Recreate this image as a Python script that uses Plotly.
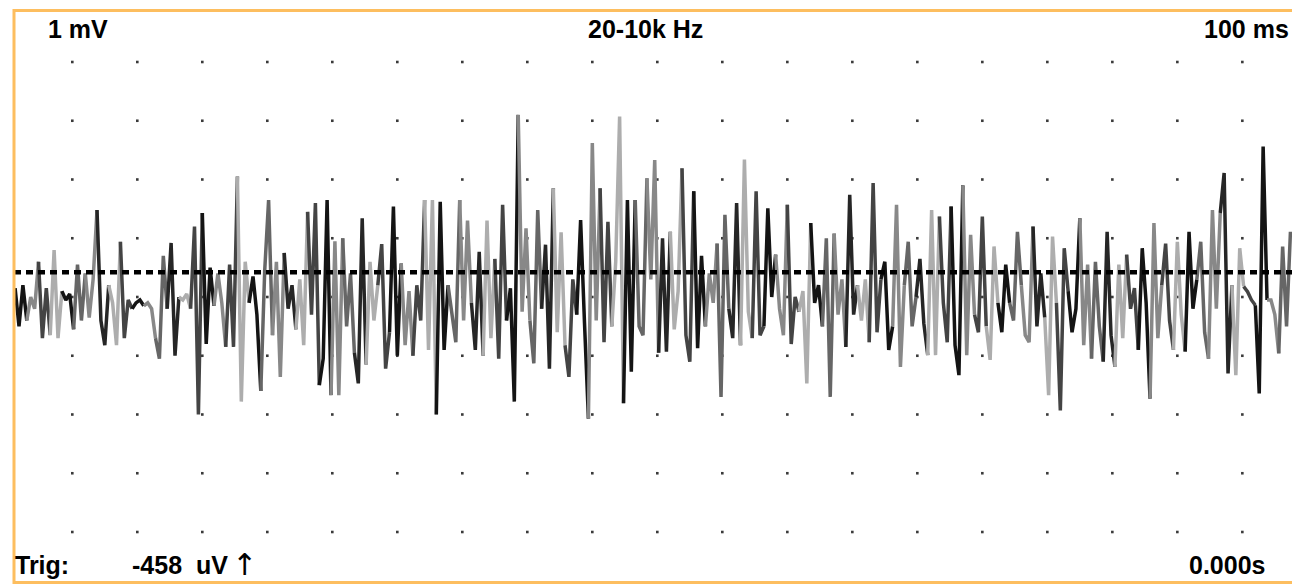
import numpy as np
import plotly.graph_objects as go

sample_start_ms = 0.6          # first sample time
sample_step_ms = 0.3
trace_mv = [
    0.15, -0.5, 0.2, -0.4, 0.0, -0.2, 0.6, -0.7, 0.15, -0.65,
    0.8, -0.7, 0.1, -0.05, 0.05, -0.55, 0.55, -0.4, 0.4, -0.35,
    0.3, 1.48, -0.4, -0.82, 0.2, -0.1, -0.82, 0.94, -0.7, -0.05,
    -0.2, -0.1, -0.05, -0.15, -0.1, -0.2, -0.7, -1.05, 0.7, -0.2,
    0.92, -1.0, 0.0, -0.05, 0.05, -0.2, 1.2, -2.0, 1.43, -0.8,
    0.5, -0.15, 0.4, -0.1, -0.85, 0.55, -0.85, 2.05, -1.78, 0.6,
    -0.1, 0.35, -0.3, -1.6, 0.45, 1.65, -0.65, 0.6, -1.36, 0.75,
    -0.2, 0.2, -0.55, 0.3, -0.82, 1.45, -0.3, 1.6, -1.5, -1.05,
    1.65, -1.67, 0.95, -1.67, 1.0, -0.5, 0.4, -0.95, -1.47, 1.34,
    -1.15, 0.6, -0.4, 0.2, 0.9, -1.22, -0.6, 1.54, -1.0, 0.57,
    -0.82, 0.1, -1.0, 0.2, -0.4, 1.65, -0.9, 1.65, -2.0, 1.62,
    -0.9, 0.2, -0.3, -0.77, 1.65, -0.4, 1.3, -0.1, -0.9, 0.77,
    -1.0, 1.3, -0.7, 0.65, -1.05, 1.57, -0.4, 0.15, -1.78, 3.1,
    -0.25, 1.17, -0.4, -1.13, 1.48, -0.2, 0.89, -1.22, 1.85, -0.6,
    1.1, -0.82, -1.36, 0.3, -0.3, 1.31, -0.45, -2.07, 2.62, -0.4,
    1.85, -0.77, 1.28, -0.5, 0.6, 3.07, -1.81, 1.65, -1.27, 1.65,
    -0.5, -0.65, 2.02, 0.3, 2.33, -0.95, 1.0, -0.93, 1.11, -0.55,
    0.1, 2.19, -0.65, -1.1, 1.8, -0.87, 0.7, -0.5, 0.4, -0.1,
    0.91, -1.7, 1.4, -0.2, -0.7, 1.6, -0.82, 2.34, -0.25, -0.7,
    1.8, -0.65, -0.5, 1.51, 0.0, 0.72, -0.2, -0.65, 1.57, -0.8,
    0.0, -0.25, 0.1, -1.47, 1.26, -0.1, 0.2, -0.5, 1.0, -1.7,
    1.08, -0.3, 0.3, -0.85, 1.74, -0.3, 0.2, -0.4, 0.3, -0.77,
    1.94, -0.6, 0.3, 0.6, -0.9, -0.5, 1.57, -1.19, 0.2, 0.94,
    -0.5, 0.0, 0.65, -0.45, -0.99, 1.48, -0.99, 1.37, -0.1, -0.77,
    1.54, -0.82, -1.33, 1.9, -0.99, 1.06, -0.3, -0.6, 1.37, -0.5,
    -1.07, 0.86, -0.1, -0.6, 0.55, -0.1, -0.4, 1.11, 0.2, -0.65,
    -0.77, 1.2, -0.5, 0.4, -0.35, -1.67, 1.03, -0.1, -1.93, 0.83,
    0.1, -0.6, -0.2, 1.34, -0.82, 0.55, -1.05, 0.6, -0.5, -1.1,
    1.11, -0.65, -1.19, 0.55, -0.7, 0.72, -0.2, 0.15, -0.9, 0.83,
    -0.1, -1.73, 1.26, -0.7, 0.2, 0.91, -0.4, -0.9, 0.94, -0.3,
    -0.93, 1.11, -0.2, 0.3, 0.94, -0.6, -1.05, 1.48, -0.2, 1.43,
    2.11, -1.3, 0.2, -1.33, 0.83, 0.18, 0.09, -0.05, -0.14, -1.64,
    2.56, -0.05, -0.05, -0.3, -0.96, 0.86, -0.5, 1.11,
]
trigger_level_mv = 0.42                     # dashed trigger line
grid_time_ms = list(range(5, 100, 5))       # dot-grid columns (5 ms/div)
grid_volt_mv = list(range(-4, 5))           # dot-grid rows (1 mV/div)

label_sensitivity = "1 mV"
label_filter = "20-10k Hz"
label_sweep = "100 ms"
label_trig = "Trig:"
label_trig_val = "-458  uV"
label_trig_arrow = "\u2191"
label_time = "0.000s"

# ---------------- figure ----------------
W, H = 1292, 584
ML, MR, MT, MB = 14, 0, 11, 2
x_range = [0.515, 98.82]
y_range = [-4.851, 4.868]

t_ms = sample_start_ms + sample_step_ms * np.arange(len(trace_mv))
v = np.array(trace_mv)

fig = go.Figure()

# dot grid
gx, gy = np.meshgrid(grid_time_ms, grid_volt_mv)
fig.add_trace(go.Scatter(
    x=gx.ravel(), y=gy.ravel(), mode="markers",
    marker=dict(symbol="square", size=2.6, color="#3a3a3a", line=dict(width=0)),
    hoverinfo="skip", showlegend=False))

# signal, drawn in short segments with mixed scan tones
palette = ["#141414", "#444444", "#888888", "#adadad", "#262626", "#666666"]
tone_pattern = [0, 2, 1, 3, 0, 5, 2, 4, 3, 1, 0, 2, 5, 4, 3, 1]
seg = 3
for j, k in enumerate(range(0, len(v) - 1, seg)):
    fig.add_trace(go.Scatter(
        x=t_ms[k:k + seg + 1], y=v[k:k + seg + 1], mode="lines",
        line=dict(color=palette[tone_pattern[j % len(tone_pattern)]], width=3.5),
        hoverinfo="skip", showlegend=False))

# trigger dashed line
fig.add_trace(go.Scatter(
    x=x_range, y=[trigger_level_mv, trigger_level_mv], mode="lines",
    line=dict(color="#000000", width=4.5, dash="7px,5px"),
    hoverinfo="skip", showlegend=False))

pw, ph = W - ML - MR, H - MT - MB
def px_x(p):
    return (p - ML) / pw
def px_y(p):
    return (H - MB - p) / ph

orange = "#FDBE5F"
shapes = [
    dict(type="line", xref="paper", yref="paper", x0=px_x(14), x1=px_x(1300),
         y0=px_y(10.5), y1=px_y(10.5), line=dict(color=orange, width=3)),
    dict(type="line", xref="paper", yref="paper", x0=px_x(14), x1=px_x(1300),
         y0=px_y(582.5), y1=px_y(582.5), line=dict(color=orange, width=3)),
    dict(type="line", xref="paper", yref="paper", x0=px_x(14), x1=px_x(14),
         y0=px_y(9), y1=px_y(584), line=dict(color=orange, width=3)),
]

font_family = "Liberation Sans, Arial, sans-serif"
def ann(text, x, y, xanchor, size=25, bold=True, family=font_family):
    return dict(text=("<b>" + text + "</b>") if bold else text,
                xref="paper", yref="paper", x=px_x(x), y=px_y(y),
                xanchor=xanchor, yanchor="middle", showarrow=False,
                font=dict(family=family, size=size, color="#000000"))

annotations = [
    ann(label_sensitivity, 46, 29, "left"),
    ann(label_filter, 645, 29, "center"),
    ann(label_sweep, 1291, 29, "right"),
    ann(label_trig, 13, 565, "left"),
    ann(label_trig_val, 130, 565, "left"),
    ann(label_trig_arrow, 230, 564, "left", size=30, bold=False,
        family="DejaVu Sans, Liberation Sans, sans-serif"),
    ann(label_time, 1267, 565, "right"),
]

fig.update_layout(
    width=W, height=H,
    margin=dict(l=ML, r=MR, t=MT, b=MB, pad=0),
    paper_bgcolor="#ffffff", plot_bgcolor="#ffffff",
    xaxis=dict(range=x_range, showgrid=False, zeroline=False, showticklabels=False,
               ticks="", showline=False, fixedrange=True),
    yaxis=dict(range=y_range, showgrid=False, zeroline=False, showticklabels=False,
               ticks="", showline=False, fixedrange=True),
    shapes=shapes, annotations=annotations, showlegend=False,
)

fig.write_html("out.html", config={"displayModeBar": False},
               post_script="document.body.style.margin='0';document.body.style.overflow='hidden';")
